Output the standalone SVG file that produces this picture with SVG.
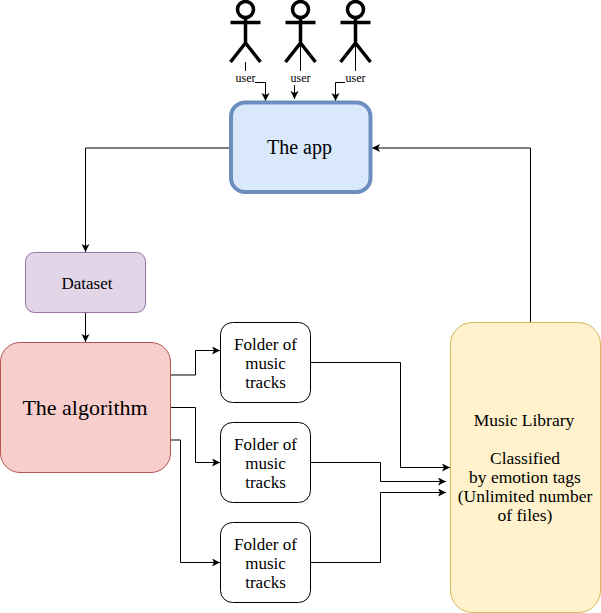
<svg xmlns="http://www.w3.org/2000/svg" width="601" height="613" viewBox="0 0 601 613">
<style>
text{font-family:"Liberation Serif","Times New Roman",serif;fill:#000;text-anchor:middle}
.c{fill:none;stroke:#000;stroke-width:1}
.s{fill:none;stroke:#000;stroke-width:3.500}
.f{fill:#fff;stroke:#000;stroke-width:1}
.t{font-size:17px}
.l{font-size:17.500px}
.u{font-size:12px}
</style>
<defs>
<marker id="a" markerUnits="userSpaceOnUse" markerWidth="9" markerHeight="9" refX="8" refY="4" orient="auto"><path d="M0 0L8 4L0 8L2 4Z" fill="#000"/></marker>
<g id="actor"><circle cx="0" cy="9.500" r="8" class="s"/><path d="M0 17.500V43M-15 22.500H15M-15 62L0 43L15 62" class="s"/></g>
</defs>
<g id="connectors">
<path class="c" d="M245.500 62V71"/>
<path class="c" d="M300.500 43V71"/>
<path class="c" d="M355.500 43V71"/>
<path class="c" marker-end="url(#a)" d="M255 82.500H265.500V101"/>
<path class="c" marker-end="url(#a)" d="M294.500 85V99"/>
<path class="c" marker-end="url(#a)" d="M345 82.500H335.500V101"/>
<path class="c" marker-end="url(#a)" d="M229 148H85.500V252"/>
<path class="c" marker-end="url(#a)" d="M85.500 312.500V342"/>
<path class="c" marker-end="url(#a)" d="M530.500 322.500V148H372"/>
<path class="c" marker-end="url(#a)" d="M171 375H195.500V350.500H220"/>
<path class="c" marker-end="url(#a)" d="M171 407.500H195.500V462.500H220"/>
<path class="c" marker-end="url(#a)" d="M171 440H180.500V562.500H220"/>
<path class="c" marker-end="url(#a)" d="M310.500 362.500H400.500V467.500H450"/>
<path class="c" marker-end="url(#a)" d="M310.500 462.500H380.500V481.500H446"/>
<path class="c" marker-end="url(#a)" d="M310.500 562.500H380.500V492.500H446"/>
</g>
<g id="user1"><use href="#actor" x="245.500"/><text class="u" x="245.500" y="82">user</text></g>
<g id="user2"><use href="#actor" x="300.500"/><text class="u" x="300.500" y="82">user</text></g>
<g id="user3"><use href="#actor" x="355.500"/><text class="u" x="355.500" y="82">user</text></g>
<g id="app"><rect x="231" y="102.500" width="139.500" height="89.500" rx="14" fill="#dae8fc" stroke="#6c8ebf" stroke-width="4"/><text x="299.500" y="154" font-size="20">The app</text></g>
<g id="dataset"><rect x="25.500" y="252.500" width="120" height="60" rx="9" fill="#e1d5e7" stroke="#9673a6"/><text x="87" y="289" style="font-size:17px">Dataset</text></g>
<g id="algorithm"><rect x="0.500" y="342.500" width="170" height="130" rx="19.500" fill="#f8cecc" stroke="#b85450"/><text x="85" y="415" font-size="22">The algorithm</text></g>
<g id="folder1"><rect class="f" x="220.500" y="322.500" width="90" height="80" rx="12"/><text class="t"><tspan x="265.500" y="350">Folder of</tspan><tspan x="265.500" y="369">music</tspan><tspan x="265.500" y="388">tracks</tspan></text></g>
<g id="folder2"><rect class="f" x="220.500" y="422.500" width="90" height="80" rx="12"/><text class="t"><tspan x="265.500" y="450">Folder of</tspan><tspan x="265.500" y="469">music</tspan><tspan x="265.500" y="488">tracks</tspan></text></g>
<g id="folder3"><rect class="f" x="220.500" y="522.500" width="90" height="80" rx="12"/><text class="t"><tspan x="265.500" y="550">Folder of</tspan><tspan x="265.500" y="569">music</tspan><tspan x="265.500" y="588">tracks</tspan></text></g>
<g id="library"><rect x="450.500" y="322.500" width="150" height="290" rx="22" fill="#fff2cc" stroke="#d6b656"/><text class="l"><tspan x="524" y="426">Music Library</tspan><tspan x="525" y="464">Classified</tspan><tspan x="525" y="483">by emotion tags</tspan><tspan x="525" y="502">(Unlimited number</tspan><tspan x="525" y="521">of files)</tspan></text></g>
</svg>
